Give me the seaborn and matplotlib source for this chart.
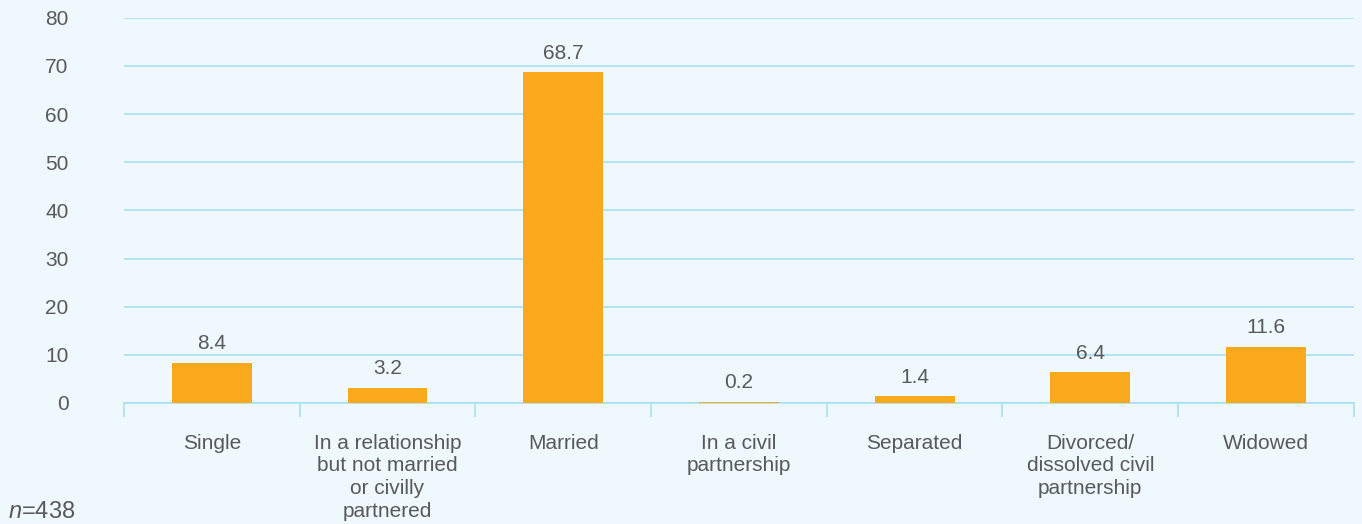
import matplotlib
matplotlib.use("Agg")
import matplotlib.pyplot as plt
import numpy as np
import pandas as pd
import seaborn as sns

categories = [
    "Single",
    "In a relationship\nbut not married\nor civilly\npartnered",
    "Married",
    "In a civil\npartnership",
    "Separated",
    "Divorced/\ndissolved civil\npartnership",
    "Widowed",
]
percentages = [8.4, 3.2, 68.7, 0.2, 1.4, 6.4, 11.6]
y_ticks = [0, 10, 20, 30, 40, 50, 60, 70, 80]

BG = "#eff8fd"
GRID = "#a9dff3"
BAR = "#f9a91b"
TEXT = "#58595b"
FS = 15

sns.set_theme(style="white")
plt.rcParams["font.family"] = ["Liberation Sans", "DejaVu Sans"]
plt.rcParams["mathtext.fontset"] = "custom"
plt.rcParams["mathtext.it"] = "Liberation Sans:italic"

df = pd.DataFrame({"category": categories, "value": percentages})

fig = plt.figure(figsize=(13.62, 5.24), dpi=100, facecolor=BG)
ax = fig.add_axes([0.091, 0.231, 0.903, 0.735], facecolor=BG)

sns.barplot(data=df, x="category", y="value", color=BAR, width=0.455,
            saturation=1, linewidth=0, edgecolor="none", ax=ax, zorder=3)

ax.set_ylim(0, 80)
ax.set_xlim(-0.5, len(categories) - 0.5)
ax.set_yticks(y_ticks)
ax.yaxis.grid(True, color=GRID, linewidth=1.2, zorder=0)
ax.set_axisbelow(True)

for side in ["top", "right", "left"]:
    ax.spines[side].set_visible(False)
ax.spines["bottom"].set_color(GRID)
ax.spines["bottom"].set_linewidth(1.2)

ax.set_xlabel("")
ax.set_ylabel("")

# category labels under the bars, separators between categories
ax.set_xticks(range(len(categories)))
ax.set_xticklabels(categories, fontsize=FS, color=TEXT, linespacing=1.25,
                   va="top")
ax.tick_params(axis="x", which="major", bottom=False, length=0, pad=22)
ax.set_xticks(np.arange(-0.5, len(categories)), minor=True)
ax.tick_params(axis="x", which="minor", bottom=True, length=10, width=1.2,
               color=GRID, direction="out")
ax.tick_params(axis="y", length=0, pad=40, labelsize=FS, labelcolor=TEXT)
for lbl in ax.get_yticklabels():
    lbl.set_horizontalalignment("right")

for i, v in enumerate(percentages):
    ax.text(i, v + 2.0, f"{v:.1f}", ha="center", va="bottom",
            fontsize=FS, color=TEXT, zorder=4)

fig.text(0.006, 0.002, r"$n$=438", fontsize=17, color=TEXT,
         ha="left", va="bottom")

fig.savefig("out.png", dpi=100, facecolor=BG)
